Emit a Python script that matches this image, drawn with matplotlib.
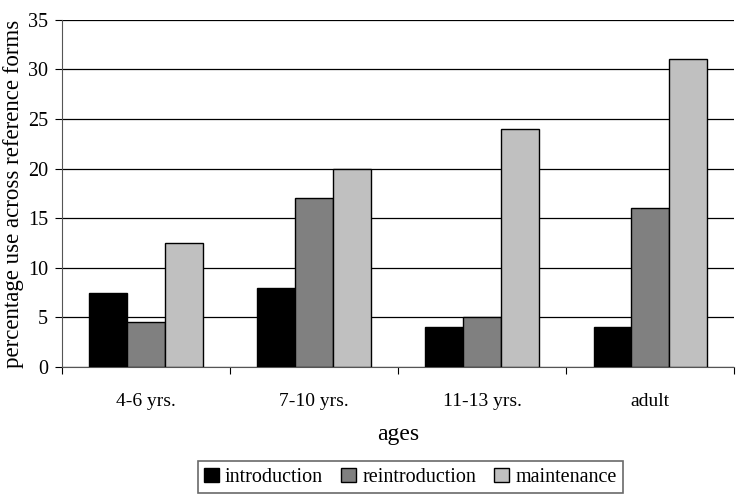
import numpy as np
import matplotlib.pyplot as plt

ages = ["4-6 yrs.", "7-10 yrs.", "11-13 yrs.", "adult"]
introduction = [7.5, 8, 4, 4]
reintroduction = [4.5, 17, 5, 16]
maintenance = [12.5, 20, 24, 31]

plt.rcParams["font.family"] = "Liberation Serif"

fig = plt.figure(figsize=(7.38, 4.94), dpi=100)
ax = fig.add_axes([0.084, 0.257, 0.911, 0.703])

x = np.arange(len(ages))
w = 0.225
series = [("introduction", introduction, "black"),
          ("reintroduction", reintroduction, "#808080"),
          ("maintenance", maintenance, "#c0c0c0")]
for i, (name, vals, col) in enumerate(series):
    ax.bar(x + (i - 1) * w, vals, w, color=col, edgecolor="black", linewidth=1, label=name, zorder=3)

ax.set_xlim(-0.5, 3.5)
ax.set_ylim(0, 35)
ax.set_yticks(range(0, 36, 5))
ax.yaxis.grid(True, color="black", linewidth=0.9, zorder=0)
ax.set_xticks(np.arange(-0.5, 4, 1))
ax.set_xticklabels([])
ax.set_xticks(x, minor=True)
ax.set_xticklabels(ages, minor=True)
ax.tick_params(axis="x", which="minor", length=0, pad=19, labelsize=14)
ax.tick_params(axis="x", which="major", length=5, direction="out")
ax.tick_params(axis="y", length=5, direction="out", labelsize=14.5, pad=5)
for s in ["top", "right"]:
    ax.spines[s].set_visible(False)
ax.spines["left"].set_color("#555555")
ax.spines["bottom"].set_color("#555555")

ax.set_xlabel("ages", fontsize=17, labelpad=10)
ax.set_ylabel("percentage use across reference forms", fontsize=16.5, labelpad=3)

leg = fig.legend(loc="center", bbox_to_anchor=(0.556, 0.034), ncol=3, fontsize=14.5,
                 frameon=True, fancybox=False, edgecolor="#444444",
                 handlelength=0.75, handleheight=0.75, handletextpad=0.3,
                 columnspacing=0.9, borderpad=0.3)
leg.get_frame().set_linewidth(1.2)

fig.savefig("out.png")
